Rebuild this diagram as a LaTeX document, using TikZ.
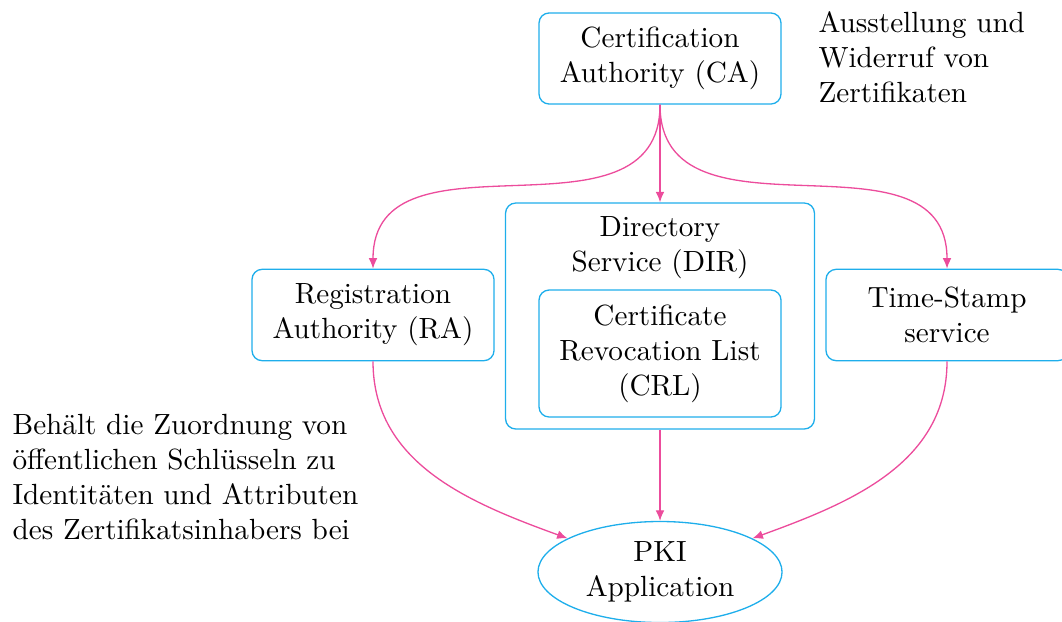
\documentclass[tikz,border=0pt]{standalone}
\usetikzlibrary{shapes.geometric,arrows.meta}
\definecolor{boxcyan}{RGB}{30,174,235}
\definecolor{arrowpink}{RGB}{236,76,156}
\begin{document}
\begin{tikzpicture}[x=0.3425pt,y=-0.3425pt,
  box/.style={draw=boxcyan,line width=0.45pt,rounded corners=3.5pt,align=center,inner sep=0pt},
  plain/.style={align=center,inner sep=0pt},
  note/.style={align=left,inner sep=0pt,anchor=west},
  flow/.style={draw=arrowpink,line width=0.45pt,-{Latex[length=3.6pt,width=3pt]}}]
\useasboundingbox (0,0) rectangle (1062,621);

% components
\node[box,minimum width=82.9pt,minimum height=31.2pt] (ca) at (660,58.5) {Certification\\Authority (CA)};
\node[box,minimum width=82.9pt,minimum height=31.3pt] (ra) at (373,315) {Registration\\Authority (RA)};
\node[box,minimum width=82.9pt,minimum height=31.3pt] (ts) at (947,315) {Time-Stamp\\service};
\node[box,minimum width=105.8pt,minimum height=77.4pt] (dir) at (660,316) {};
\node[plain] (dirlabel) at (660,247.5) {Directory\\Service (DIR)};
\node[box,minimum width=82.9pt,minimum height=43.5pt] (crl) at (660,353.5) {Certificate\\Revocation List\\(CRL)};
\node[draw=boxcyan,line width=0.45pt,ellipse,align=center,inner sep=0pt,
      minimum width=83.6pt,minimum height=34.6pt] (pki) at (660,572) {PKI\\Application};

% annotations
\node[note] (canote) at (818,57) {Ausstellung und\\Widerruf von\\Zertifikaten};
\node[note] (ranote) at (12,477) {Behält die Zuordnung von\\öffentlichen Schlüsseln zu\\Identitäten und Attributen\\des Zertifikatsinhabers bei};

% connections
\draw[flow] (ca.south) -- (dir.north);
\draw[flow] (ca.south) to[out=-90,in=90,looseness=1.15] (ra.north);
\draw[flow] (ca.south) to[out=-90,in=90,looseness=1.15] (ts.north);
\draw[flow] (dir.south) -- (pki.north);
\draw[flow] (ra.south) to[out=-90,in=160] (pki);
\draw[flow] (ts.south) to[out=-90,in=20] (pki);
\end{tikzpicture}
\end{document}
